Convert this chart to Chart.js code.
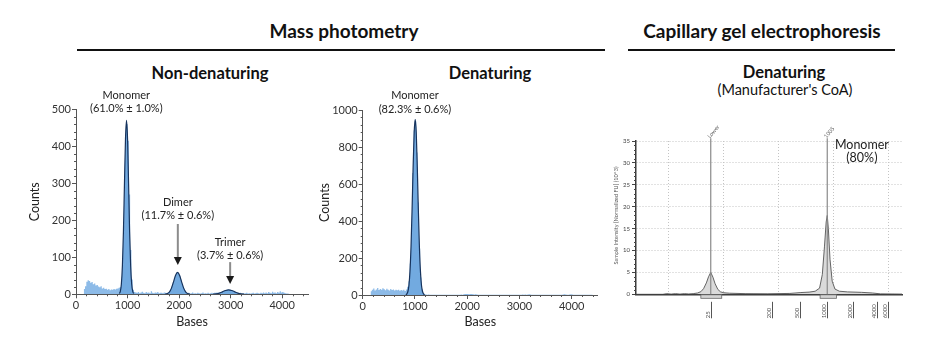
<!DOCTYPE html>
<html>
<head>
<meta charset="utf-8">
<script src="https://cdn.jsdelivr.net/npm/chart.js@4.4.1/dist/chart.umd.min.js"></script>
<style>
  body { margin: 0; background: #fff; font-family: Lato, "Open Sans", sans-serif; color: #111; }
  #page { position: relative; width: 931px; height: 349px; overflow: hidden; }
  .t { position: absolute; transform: translate(-50%, -50%); white-space: nowrap; line-height: 1; }
  .h1 { font-weight: 700; font-size: 19px; }
  .h2 { font-weight: 700; font-size: 16.5px; }
  .h3 { font-size: 14.5px; }
  .rule { position: absolute; height: 2px; background: #111; }
  .box { position: absolute; top: 0; height: 349px; }
</style>
</head>
<body>
<div id="page">
  <div class="t h1" style="left:344px;top:30px">Mass photometry</div>
  <div class="rule" style="left:77px;top:49px;width:528px"></div>
  <div class="t h1" style="left:762px;top:30px">Capillary gel electrophoresis</div>
  <div class="rule" style="left:628px;top:49px;width:267px"></div>
  <div class="t h2" style="left:210px;top:73px">Non-denaturing</div>
  <div class="t h2" style="left:490px;top:73px">Denaturing</div>
  <div class="t h2" style="left:784px;top:72px">Denaturing</div>
  <div class="t h3" style="left:785px;top:90px">(Manufacturer's CoA)</div>
  <div class="box" style="left:0;width:310px"><canvas id="c1"></canvas></div>
  <div class="box" style="left:300px;width:310px"><canvas id="c2"></canvas></div>
  <div class="box" style="left:600px;width:331px"><canvas id="c3"></canvas></div>
</div>
<script>
// histogram bins (bases): first bin start and width
const binStart = 150;
const binWidth = 25;
const basesTicks = [0, 1000, 2000, 3000, 4000];

// mass photometry, non-denaturing: counts per bin
const nonDenCounts = [
  14, 22, 34, 38, 36, 31, 33, 27, 29, 24, 25, 21, 19, 22, 16, 18, 14, 15, 12, 14,
  11, 13, 12, 14, 13, 15, 16, 18, 20, 30, 80, 185, 360, 460, 415, 270, 120, 40, 12, 6,
  5, 4, 6, 3, 5, 7, 4, 3, 6, 4, 5, 3, 8, 4, 3, 5, 4, 6, 3, 4,
  4, 3, 5, 4, 3, 5, 6, 12, 21, 32, 44, 53, 59, 57, 50, 40, 28, 17, 10, 5,
  3, 4, 2, 3, 5, 2, 3, 2, 4, 3, 2, 3, 5, 2, 3, 2, 4, 2, 3, 4,
  3, 4, 4, 5, 4, 5, 6, 7, 9, 10, 11, 12, 12, 12, 11, 10, 8, 7, 5, 4,
  3, 4, 2, 3, 2, 3, 4, 2, 3, 2, 3, 4, 2, 3, 4, 3, 2, 4, 3, 5,
  3, 5, 3, 6, 4, 3, 7, 4, 5, 3, 6, 4, 8, 5, 6, 4, 3, 2, 2, 0
];
// gaussian fits
const monoFitX = [840, 860, 880, 900, 920, 940, 960, 980, 1000, 1020, 1040, 1060, 1080, 1100, 1120];
const monoFitY = [2, 8, 28, 77, 169, 299, 420, 470, 420, 299, 169, 77, 28, 8, 2];
const dimerFitX = [1730, 1770, 1810, 1850, 1890, 1930, 1970, 2010, 2050, 2090, 2130, 2170, 2210];
const dimerFitY = [0.4, 2, 6, 16, 33, 51, 59, 51, 33, 16, 6, 2, 0.4];
const trimerFitX = [2660, 2720, 2780, 2840, 2900, 2960, 3020, 3080, 3140, 3200, 3260];
const trimerFitY = [0.3, 1.1, 3.1, 6.6, 10.3, 12, 10.3, 6.6, 3.1, 1.1, 0.3];

// mass photometry, denaturing: counts per bin
const denCounts = [
  20, 28, 35, 25, 30, 38, 27, 33, 29, 36, 31, 26, 34, 28, 25, 32, 27, 30, 24, 28,
  26, 29, 23, 27, 24, 28, 22, 30, 45, 75, 170, 380, 660, 890, 940, 770, 500, 250, 95, 30,
  8, 4, 3, 2, 3, 2, 1, 2, 1, 2, 1, 1, 2, 1, 1, 2, 1, 1, 2, 1,
  1, 2, 1, 1, 2, 1, 2, 1, 2, 3, 2, 4, 5, 6, 5, 4, 6, 5, 4, 3,
  4, 3, 2, 2, 1, 2, 1, 1, 2, 1, 1, 2, 1, 1, 1, 2, 1, 1, 1, 2,
  1, 1, 2, 1, 1, 1, 2, 1, 1, 2, 1, 1, 2, 2, 1, 2, 3, 2, 3, 2,
  3, 4, 3, 2, 2, 1, 2, 1, 1, 2, 1, 1, 2, 1, 1, 2, 1, 1, 1, 2,
  1, 1, 2, 1, 1, 2, 1, 3, 4, 3, 2, 2, 3, 4, 3, 2, 2, 1, 1, 1,
  1, 1, 2, 1, 1, 1, 2, 1, 1, 1, 0
];
const denFitX = [825, 845, 865, 885, 905, 925, 945, 965, 985, 1005, 1025, 1045, 1065, 1085, 1105, 1125, 1145, 1165, 1185];
const denFitY = [1.5, 6, 19, 53, 129, 264, 462, 690, 877, 950, 877, 690, 462, 264, 129, 53, 19, 6, 1.5];

// capillary gel electrophoresis trace (migration units, intensity x10^3 FU)
const cgeX = [14, 18.9, 19.6, 20.4, 21.2, 22.0, 22.8, 23.6, 24.4, 25.2,
  25.8, 26.3, 26.8, 27.2, 27.6, 28.0, 28.4, 28.9, 29.4, 30.0,
  31, 34, 38, 42, 44, 45.5, 46.6, 47.4, 47.9, 48.3,
  48.6, 48.8, 49.0, 49.3, 49.7, 50.2, 51, 52.5, 55, 57,
  58.5, 62.4];
const cgeY = [0, 0, 0.15, 0.05, 0.15, 0.05, 0.15, 0.08, 0.15, 0.3,
  0.6, 1.3, 2.6, 4.0, 5.0, 3.9, 2.4, 1.1, 0.55, 0.35,
  0.25, 0.15, 0.12, 0.2, 0.4, 0.5, 0.7, 1.4, 4.5, 11,
  16.5, 18, 15, 8, 3, 1.2, 0.7, 0.55, 0.45, 0.3,
  0.1, 0.05];
const peakMarkerX = [27.6, 48.8];
const peakMarkerNames = ['Lower', '1005'];
const integrationStart = [25.8, 47.5];
const integrationEnd = [29.6, 50.5];
const ladderX = [27.6, 38.7, 43.9, 48.8, 53.4, 57.9, 59.9];
const ladderSizes = ['25', '200', '500', '1000', '2000', '4000', '6000'];

const HIST = '#8dbbe8';
const FIT_FILL = 'rgba(112,168,222,0.92)';
const FIT_LINE = '#17335c';
const AXIS = '#555';

Chart.defaults.font.family = 'Lato, "Open Sans", sans-serif';
Chart.defaults.color = '#333';
Chart.defaults.animation = false;
Chart.defaults.plugins.legend.display = false;
Chart.defaults.plugins.tooltip.enabled = false;

function xy(xs, ys) {
  return xs.map((x, i) => ({ x: x, y: ys[i] }));
}

function histPoints(counts) {
  const pts = counts.map((c, i) => ({ x: binStart + i * binWidth, y: c }));
  pts.push({ x: binStart + counts.length * binWidth, y: 0 });
  return pts;
}

function fitDataset(xs, ys) {
  return {
    data: xy(xs, ys), borderColor: FIT_LINE, backgroundColor: FIT_FILL,
    fill: 'origin', borderWidth: 1.2, pointRadius: 0, cubicInterpolationMode: 'monotone'
  };
}

function histDataset(counts) {
  return {
    data: histPoints(counts), stepped: true, fill: 'origin',
    backgroundColor: HIST, borderWidth: 0, borderColor: HIST, pointRadius: 0
  };
}

// short minor tick marks between the labelled ones
const minorTicks = {
  id: 'minorTicks',
  afterDraw(chart, args, opts) {
    const ctx = chart.ctx;
    ctx.save();
    ctx.strokeStyle = opts.color || AXIS;
    ctx.lineWidth = 1;
    ['x', 'y'].forEach(id => {
      const o = opts[id];
      if (!o) return;
      const s = chart.scales[id];
      for (let v = s.min; v <= s.max + 1e-9; v += o.step) {
        const r = v / o.major;
        if (Math.abs(r - Math.round(r)) < 1e-6) continue;
        const p = Math.round(s.getPixelForValue(v)) + 0.5;
        ctx.beginPath();
        if (id === 'x') { ctx.moveTo(p, s.top); ctx.lineTo(p, s.top + o.len); }
        else { ctx.moveTo(s.right - o.len, p); ctx.lineTo(s.right, p); }
        ctx.stroke();
      }
    });
    ctx.restore();
  }
};

// peak names and arrows
const peakLabels = {
  id: 'peakLabels',
  afterDraw(chart, args, opts) {
    const { ctx, scales: { x, y } } = chart;
    ctx.save();
    ctx.font = '11px Lato, sans-serif';
    ctx.fillStyle = '#222';
    ctx.textAlign = 'center';
    ctx.textBaseline = 'middle';
    (opts.labels || []).forEach(l => {
      l.lines.forEach((t, i) => ctx.fillText(t, x.getPixelForValue(l.x), y.getPixelForValue(l.y[i])));
    });
    (opts.arrows || []).forEach(a => {
      const px = x.getPixelForValue(a.x);
      const y1 = y.getPixelForValue(a.from), y2 = y.getPixelForValue(a.to);
      ctx.strokeStyle = '#8c8c8c';
      ctx.lineWidth = 2;
      ctx.beginPath();
      ctx.moveTo(px, y1);
      ctx.lineTo(px, y2 - 7);
      ctx.stroke();
      ctx.fillStyle = '#1a1a1a';
      ctx.beginPath();
      ctx.moveTo(px - 4, y2 - 8);
      ctx.lineTo(px + 4, y2 - 8);
      ctx.lineTo(px, y2);
      ctx.closePath();
      ctx.fill();
    });
    ctx.restore();
  }
};

function mpOptions(cfg) {
  return {
    responsive: true,
    maintainAspectRatio: false,
    layout: { padding: cfg.padding },
    scales: {
      x: {
        type: 'linear', min: 0, max: 4500,
        afterBuildTicks: s => { s.ticks = basesTicks.map(v => ({ value: v })); },
        ticks: { font: { size: 11 }, padding: 1, maxRotation: 0, autoSkip: false, callback: v => String(v) },
        grid: { drawOnChartArea: false, tickLength: 4, tickColor: AXIS },
        border: { color: AXIS },
        title: { display: true, text: 'Bases', font: { size: 12.5 }, color: '#222', padding: 0 },
        afterFit: s => { s.height = cfg.xHeight; }
      },
      y: {
        min: 0, max: cfg.yMax,
        ticks: { stepSize: cfg.yStep, font: { size: 11 }, padding: 1, callback: v => String(v) },
        grid: { drawOnChartArea: false, tickLength: 4, tickColor: AXIS },
        border: { color: AXIS },
        title: { display: true, text: 'Counts', font: { size: 12.5 }, color: '#222', padding: 0 },
        afterFit: s => { s.width = cfg.yWidth; }
      }
    },
    plugins: {
      minorTicks: { x: { step: 200, major: 1000, len: 2 }, y: { step: cfg.yMinor, major: cfg.yStep, len: 2 } },
      peakLabels: { labels: cfg.labels, arrows: cfg.arrows || [] }
    }
  };
}

new Chart(document.getElementById('c1'), {
  type: 'line',
  data: {
    datasets: [
      fitDataset(monoFitX, monoFitY),
      fitDataset(dimerFitX, dimerFitY),
      fitDataset(trimerFitX, trimerFitY),
      histDataset(nonDenCounts)
    ]
  },
  options: mpOptions({
    padding: { left: 27.5, top: 109.3, right: 2, bottom: 19.5 },
    xHeight: 35.2, yWidth: 48.5, yMax: 500, yStep: 100, yMinor: 20,
    labels: [
      { lines: ['Monomer', '(61.0% ± 1.0%)'], x: 975, y: [538, 501] },
      { lines: ['Dimer', '(11.7% ± 0.6%)'], x: 1975, y: [249, 212] },
      { lines: ['Trimer', '(3.7% ± 0.6%)'], x: 2990, y: [141, 106] }
    ],
    arrows: [
      { x: 1975, from: 190, to: 79 },
      { x: 2990, from: 87, to: 28 }
    ]
  }),
  plugins: [minorTicks, peakLabels]
});

new Chart(document.getElementById('c2'), {
  type: 'line',
  data: {
    datasets: [
      fitDataset(denFitX, denFitY),
      histDataset(denCounts)
    ]
  },
  options: mpOptions({
    padding: { left: 17.5, top: 110, right: 12.2, bottom: 19.5 },
    xHeight: 34.5, yWidth: 45.2, yMax: 1000, yStep: 200, yMinor: 40,
    labels: [
      { lines: ['Monomer', '(82.3% ± 0.6%)'], x: 1000, y: [1081, 1005] }
    ]
  }),
  plugins: [minorTicks, peakLabels]
});

// electropherogram decorations: integration bars, ladder, marker names, texts
const cgeExtras = {
  id: 'cgeExtras',
  afterDraw(chart) {
    const { ctx, scales: { x, y }, chartArea } = chart;
    const base = y.getPixelForValue(0);
    ctx.save();
    ctx.fillStyle = '#d4d4d4';
    ctx.strokeStyle = '#666';
    ctx.lineWidth = 0.8;
    integrationStart.forEach((a, i) => {
      const x1 = x.getPixelForValue(a), x2 = x.getPixelForValue(integrationEnd[i]);
      ctx.fillRect(x1, base + 0.5, x2 - x1, 3.5);
      ctx.strokeRect(x1, base + 0.5, x2 - x1, 3.5);
    });

    ctx.strokeStyle = '#555';
    ctx.lineWidth = 1;
    ctx.fillStyle = '#555';
    ctx.font = '6px Lato, sans-serif';
    ladderX.forEach((v, i) => {
      const px = Math.round(x.getPixelForValue(v)) + 0.5;
      ctx.beginPath();
      ctx.moveTo(px, base + 7.5);
      ctx.lineTo(px, base + 24);
      ctx.stroke();
      ctx.save();
      ctx.translate(px - 3.5, base + 24);
      ctx.rotate(-Math.PI / 2);
      ctx.textAlign = 'left';
      ctx.textBaseline = 'middle';
      ctx.fillText(ladderSizes[i], 0, 0);
      ctx.restore();
    });

    ctx.font = '5.5px Lato, sans-serif';
    peakMarkerX.forEach((v, i) => {
      ctx.save();
      ctx.translate(x.getPixelForValue(v) - 2, y.getPixelForValue(35.6) - 1);
      ctx.rotate(-50 * Math.PI / 180);
      ctx.textAlign = 'left';
      ctx.textBaseline = 'middle';
      ctx.fillText(peakMarkerNames[i], 0, 0);
      ctx.restore();
    });

    ctx.save();
    ctx.translate(chartArea.left - 20, y.getPixelForValue(18));
    ctx.rotate(-Math.PI / 2);
    ctx.textAlign = 'center';
    ctx.textBaseline = 'middle';
    ctx.fillText('Sample Intensity [Normalized FU] (10^3)', 0, 0);
    ctx.restore();

    ctx.fillStyle = '#222';
    ctx.font = '12.5px Lato, sans-serif';
    ctx.textAlign = 'center';
    ctx.textBaseline = 'middle';
    ctx.fillText('Monomer', x.getPixelForValue(55.1), y.getPixelForValue(34.1));
    ctx.fillText('(80%)', x.getPixelForValue(55.1), y.getPixelForValue(31.1));
    ctx.restore();
  }
};

const markerSets = peakMarkerX.map(v => ({
  data: [{ x: v, y: 0 }, { x: v, y: 35.6 }],
  borderColor: '#8a8a8a', borderWidth: 1.2, pointRadius: 0, fill: false, clip: false
}));

new Chart(document.getElementById('c3'), {
  type: 'line',
  data: {
    datasets: markerSets.concat([{
      data: xy(cgeX, cgeY), borderColor: '#555', borderWidth: 0.9,
      backgroundColor: '#dadada', fill: 'origin', pointRadius: 0, tension: 0
    }])
  },
  options: {
    responsive: true,
    maintainAspectRatio: false,
    layout: { padding: { left: 10, top: 141, right: 29, bottom: 34.7 } },
    scales: {
      x: {
        type: 'linear', min: 14, max: 62.4,
        ticks: { display: false, stepSize: 10, includeBounds: false },
        grid: { color: c => (c.tick && c.tick.value % 10 === 0) ? '#c4c4c4' : 'transparent', drawTicks: false },
        border: { color: '#3a3a3a', width: 1.5, dash: [1, 2] },
        afterFit: s => { s.height = 20; }
      },
      y: {
        min: 0, max: 35,
        ticks: { stepSize: 5, font: { size: 6 }, color: '#444', padding: 2 },
        grid: {
          color: c => (c.tick && c.tick.value > 0) ? '#c4c4c4' : 'transparent',
          tickColor: '#444', tickLength: 4
        },
        border: { color: '#3a3a3a', width: 1.5, dash: [1, 2] },
        afterFit: s => { s.width = 26; }
      }
    },
    plugins: {
      minorTicks: { color: '#444', y: { step: 1, major: 5, len: 2 } }
    }
  },
  plugins: [minorTicks, cgeExtras]
});
</script>
</body>
</html>
